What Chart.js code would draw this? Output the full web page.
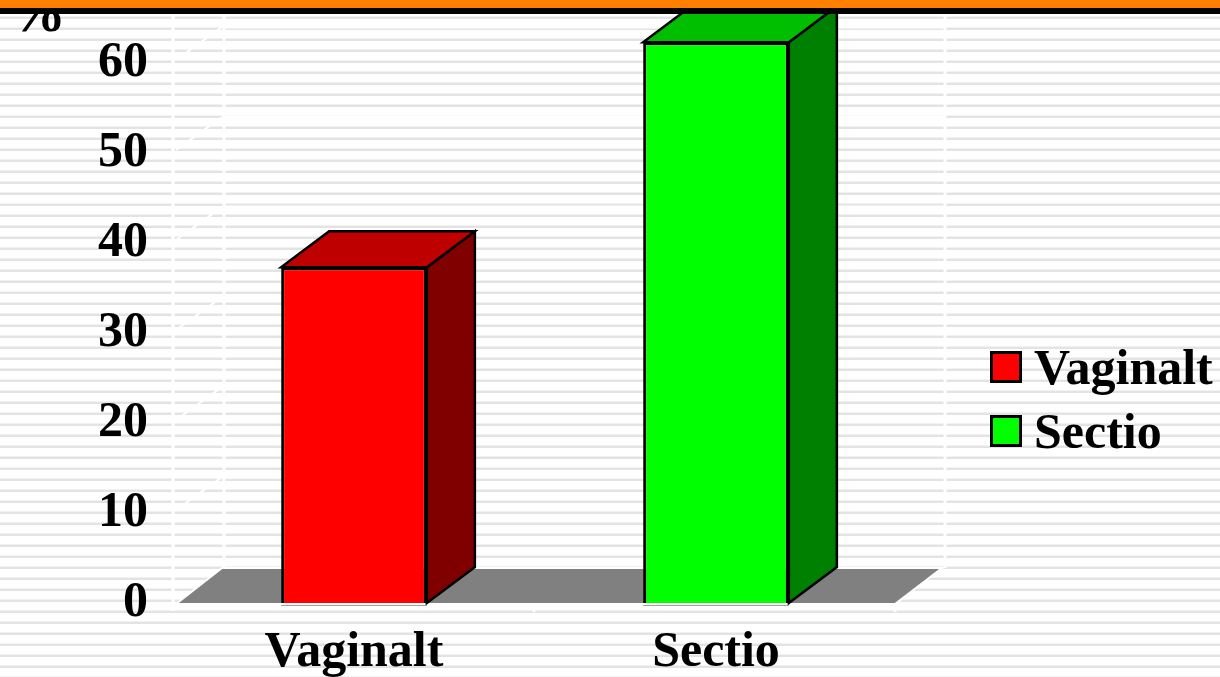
<!DOCTYPE html>
<html>
<head>
<meta charset="utf-8">
<title>Vaginalt / Sectio</title>
<script src="https://cdn.jsdelivr.net/npm/chart.js@4"></script>
<style>
    html, body { margin: 0; padding: 0; overflow: hidden; }
    body {
        width: 1220px;
        height: 677px;
        position: relative;
        background: repeating-linear-gradient(to bottom, #fff 0 5px, #f2f2f2 5px 6px, #e3e3e3 6px 8px, #fff 8px 11px);
        font: bold 50px "Liberation Serif", serif;
        color: #000;
    }
    #chartBox { position: absolute; left: 0; top: 0; width: 1220px; height: 677px; }
    #band { position: absolute; left: 0; top: 0; width: 1220px; height: 8px; background: #ff8000; border-bottom: 6px solid #000; }
    #unit { position: absolute; left: 8px; top: -17px; font-size: 58px; line-height: 58px; }
    #legend { position: absolute; left: 990px; top: 335px; }
    .legendRow { display: flex; align-items: center; height: 64px; }
    .legendBox { width: 26px; height: 26px; border: 3px solid #000; margin-right: 12px; }
</style>
</head>
<body>
<div id="unit">%</div>
<div id="chartBox"><canvas id="myChart"></canvas></div>
<div id="band"></div>
<div id="legend"></div>

<script>
const categories = ['Vaginalt', 'Sectio'];
const percentValues = [37.3, 62.3];
const frontColors = ['#ff0000', '#00ff00'];
const topColors = ['#bf0000', '#00bf00'];
const sideColors = ['#800000', '#008000'];
const yTicks = [0, 10, 20, 30, 40, 50, 60];

function polygon(ctx, points, fill) {
    ctx.beginPath();
    points.forEach((p, i) => i ? ctx.lineTo(p[0], p[1]) : ctx.moveTo(p[0], p[1]));
    ctx.closePath();
    if (fill) {
        ctx.fillStyle = fill;
        ctx.fill();
    }
    ctx.stroke();
}

function whiteLine(ctx, x1, y1, x2, y2, width) {
    ctx.strokeStyle = '#fff';
    ctx.lineWidth = width;
    ctx.beginPath();
    ctx.moveTo(x1, y1);
    ctx.lineTo(x2, y2);
    ctx.stroke();
}

// the walls and the grey floor behind the bars
const wallsAndFloor = {
    id: 'wallsAndFloor',
    beforeDatasetsDraw(chart) {
        const { ctx, chartArea, scales } = chart;
        const left = chartArea.left;
        const right = chartArea.right;
        const base = scales.y.getPixelForValue(0);
        const backLeft = left + 51;
        const backRight = right + 48;
        const floorTop = base - 35;

        ctx.save();
        whiteLine(ctx, left, 14, left, base + 8, 3);
        whiteLine(ctx, backLeft, 14, backLeft, floorTop, 3);
        whiteLine(ctx, backRight, 14, backRight, floorTop, 3);
        whiteLine(ctx, left + 361, base, left + 361, base + 9, 3);
        whiteLine(ctx, right - 2, base, right - 2, base + 9, 3);

        yTicks.slice(1).forEach(v => {
            const y = scales.y.getPixelForValue(v);
            whiteLine(ctx, left + 3, y - 3, backLeft - 2, y - 36, 2);
            whiteLine(ctx, backLeft, y - 36, backRight, y - 36, 3);
        });

        ctx.strokeStyle = '#fff';
        ctx.lineWidth = 2;
        polygon(ctx, [
            [left + 3, base + 1],
            [backLeft - 2, floorTop],
            [backRight - 3, floorTop],
            [right - 2, base + 1]
        ], '#808080');
        ctx.restore();
    }
};

// side and top faces of each bar, from the bar element's own geometry
const barDepth = {
    id: 'barDepth',
    beforeDatasetsDraw(chart) {
        const { ctx } = chart;
        const dx = 48;
        const dy = -36;
        ctx.save();
        ctx.strokeStyle = '#000';
        ctx.lineWidth = 2.5;
        ctx.lineJoin = 'miter';
        chart.getDatasetMeta(0).data.forEach((bar, i) => {
            const p = bar.getProps(['x', 'y', 'base', 'width'], true);
            const l = p.x - p.width / 2;
            const r = p.x + p.width / 2;
            polygon(ctx, [[r, p.y], [r + dx, p.y + dy], [r + dx, p.base + dy], [r, p.base]], sideColors[i]);
            polygon(ctx, [[l, p.y], [l + dx, p.y + dy], [r + dx, p.y + dy], [r, p.y]], topColors[i]);
            ctx.save();
            ctx.strokeStyle = '#a0a0a0';
            ctx.lineWidth = 1;
            ctx.beginPath();
            ctx.moveTo(l, p.base + 2.5);
            ctx.lineTo(r, p.base + 2.5);
            ctx.stroke();
            ctx.restore();
        });
        ctx.restore();
    }
};

const ctx = document.getElementById('myChart').getContext('2d');
const myChart = new Chart(ctx, {
    type: 'bar',
    data: {
        labels: categories,
        datasets: [{
            label: '%',
            data: percentValues,
            backgroundColor: frontColors,
            borderColor: '#000',
            borderWidth: 3,
            borderSkipped: 'bottom',
            barPercentage: 0.805,
            categoryPercentage: 0.5
        }]
    },
    options: {
        responsive: true,
        maintainAspectRatio: false,
        animation: false,
        layout: { autoPadding: false, padding: { top: 0, left: 0, right: 323, bottom: 0 } },
        plugins: {
            legend: { display: false },
            tooltip: { enabled: false }
        },
        scales: {
            x: {
                grid: { display: false, drawTicks: false },
                border: { display: false },
                afterFit(scale) { scale.height = 74; },
                ticks: {
                    color: '#000',
                    padding: 20,
                    maxRotation: 0,
                    font: { family: '"Liberation Serif"', size: 50, weight: 'bold' }
                }
            },
            y: {
                min: 0,
                max: 67,
                grid: { display: false, drawTicks: false },
                border: { display: false },
                afterFit(scale) {
                    scale.width = 173;
                    // the tall labels would otherwise push the plot top down
                    scale.paddingTop = 0;
                    scale.paddingBottom = 0;
                },
                afterBuildTicks(scale) { scale.ticks = yTicks.map(v => ({ value: v })); },
                ticks: {
                    color: '#000',
                    padding: 25,
                    font: { family: '"Liberation Serif"', size: 50, weight: 'bold' }
                }
            }
        }
    },
    plugins: [wallsAndFloor, barDepth]
});

// legend as html so the box to text gap can follow the picture
const legend = document.getElementById('legend');
categories.forEach((name, i) => {
    const row = document.createElement('div');
    row.className = 'legendRow';
    const box = document.createElement('div');
    box.className = 'legendBox';
    box.style.background = frontColors[i];
    row.appendChild(box);
    row.appendChild(document.createTextNode(name));
    legend.appendChild(row);
});
</script>
</body>
</html>
